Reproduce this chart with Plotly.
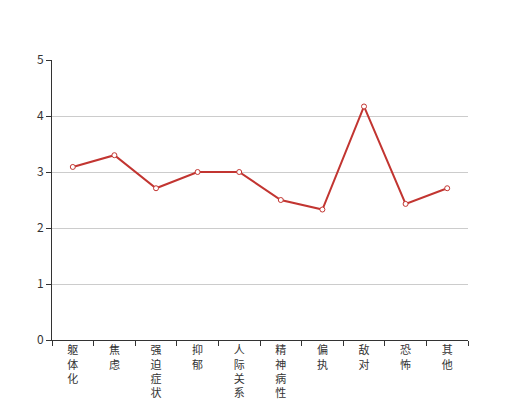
import plotly.graph_objects as go

categories = ["躯体化", "焦虑", "强迫症状", "抑郁", "人际关系敏感", "精神病性", "偏执", "敌对", "恐怖", "其他"]
values = [3.09, 3.30, 2.71, 3.00, 3.00, 2.50, 2.33, 4.17, 2.43, 2.71]
y_ticks = [0, 1, 2, 3, 4, 5]

tick_text = ["<br>".join(list(c)) for c in categories]

fig = go.Figure(
    go.Scatter(
        x=categories,
        y=values,
        mode="lines+markers",
        line=dict(color="#c23531", width=2),
        marker=dict(symbol="circle", size=5, color="#ffffff",
                    line=dict(color="#c23531", width=1)),
        hoverinfo="x+y",
    )
)

fig.update_layout(
    width=520,
    height=400,
    margin=dict(l=44, r=60, t=52, b=68),
    plot_bgcolor="#ffffff",
    paper_bgcolor="#ffffff",
    showlegend=False,
    font=dict(family="Noto Sans CJK SC, sans-serif", size=12, color="#333333"),
    xaxis=dict(
        type="category",
        tickmode="array",
        tickvals=categories,
        ticktext=tick_text,
        tickangle=0,
        automargin=False,
        showgrid=False,
        showline=True,
        linecolor="#333333",
        linewidth=1,
        ticks="outside",
        tickson="boundaries",
        ticklen=5,
        tickcolor="#333333",
        tickfont=dict(size=11, color="#333333"),
        range=[-0.5, len(categories) - 0.5],
        fixedrange=True,
    ),
    yaxis=dict(
        range=[0, 5],
        tickvals=y_ticks,
        automargin=False,
        showgrid=True,
        gridcolor="#cccccc",
        gridwidth=1,
        showline=True,
        linecolor="#333333",
        linewidth=1,
        ticks="outside",
        ticklen=5,
        tickcolor="#333333",
        tickfont=dict(size=12, color="#333333"),
        zeroline=False,
        fixedrange=True,
    ),
)

fig.write_html("out.html")
